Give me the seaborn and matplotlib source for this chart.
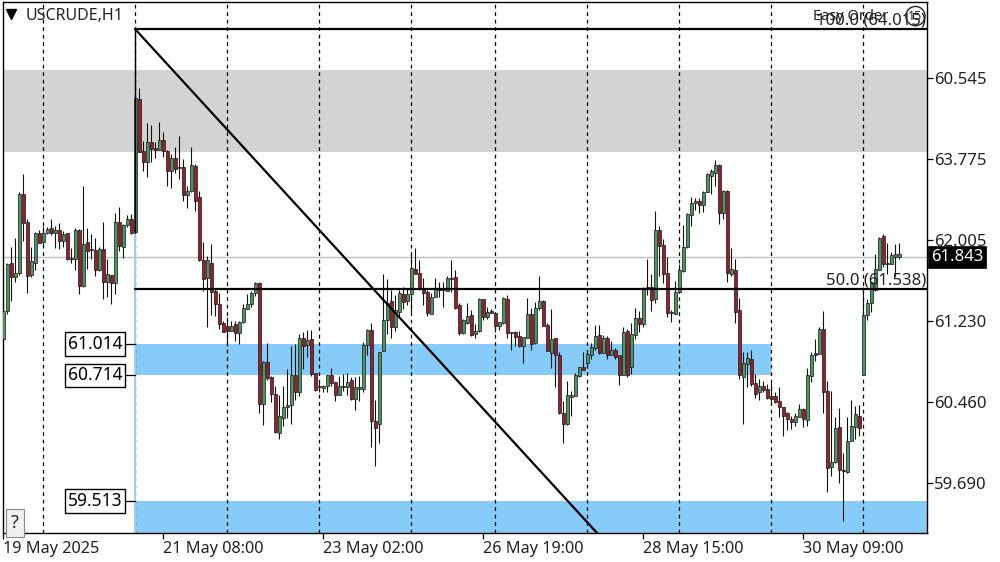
"""
USCRUDE H1 candlestick chart with fib levels and supply/demand zones
"""
import numpy as np
import pandas as pd
import matplotlib.pyplot as plt
import seaborn as sns

opens = [61.06,61.33,61.79,61.65,61.69,62.44,62.18,61.67,61.79,62.07,
         61.99,62.07,62.12,62.07,62.10,62.00,62.07,61.83,61.82,62.10,
         61.57,61.99,61.92,61.91,61.72,61.92,61.60,61.67,61.59,62.18,
         61.94,62.15,62.21,62.08,63.35,62.85,62.75,62.94,62.88,62.86,
         62.96,62.85,62.66,62.79,62.70,62.70,62.43,62.47,62.71,62.42,
         61.81,61.64,61.79,61.52,61.39,61.21,61.18,61.14,61.20,61.12,
         61.22,61.35,61.39,61.50,61.59,60.44,60.84,60.70,60.54,60.16,
         60.31,60.41,60.43,60.72,60.55,61.07,61.00,61.06,60.74,60.61,
         60.59,60.61,60.72,60.65,60.53,60.61,60.60,60.67,60.49,60.58,
         60.58,61.00,61.15,60.28,60.25,60.95,61.24,61.42,61.17,61.32,
         61.49,61.42,61.49,61.73,61.69,61.54,61.51,61.30,61.46,61.53,
         61.54,61.52,61.64,61.65,61.38,61.12,61.21,61.29,61.11,61.14,
         61.44,61.27,61.33,61.31,61.18,61.21,61.44,61.13,61.13,61.09,
         60.99,61.07,61.30,61.02,61.36,61.42,61.19,60.93,61.07,60.91,
         60.35,60.25,60.51,60.52,60.71,60.79,60.83,60.91,60.97,61.10,
         60.93,61.07,60.91,60.96,60.91,60.72,61.14,60.79,61.10,61.26,
         61.20,61.56,61.56,61.44,62.10,61.96,61.69,61.31,61.30,61.51,
         61.71,61.94,62.24,62.36,62.38,62.34,62.46,62.62,62.64,62.72,
         62.26,62.47,61.68,61.72,61.34,60.70,60.82,60.87,60.64,60.55,
         60.61,60.58,60.52,60.52,60.47,60.41,60.35,60.30,60.27,60.32,
         60.39,60.29,60.71,60.93,60.92,61.16,60.56,59.84,59.89,60.22,
         59.81,59.79,60.09,60.22,60.33,60.72,61.29,61.40,61.53,61.72,
         62.04,61.79,61.78,61.84,61.84]
highs = [61.38,61.79,61.94,62.02,62.46,62.63,62.21,61.94,62.08,62.10,
         62.14,62.13,62.21,62.14,62.17,62.09,62.07,61.93,62.12,62.11,
         62.52,62.12,62.06,62.02,61.94,62.18,61.82,61.67,62.26,62.32,
         62.16,62.24,62.25,63.37,63.46,62.95,63.12,63.10,62.94,63.13,
         63.04,62.86,62.83,62.89,63.00,62.78,62.52,62.89,62.73,62.47,
         61.99,61.85,61.97,61.54,61.50,61.23,61.27,61.23,61.23,61.23,
         61.39,61.49,61.52,61.60,61.60,60.85,61.02,60.71,60.61,60.53,
         60.61,60.77,60.99,61.01,61.11,61.13,61.15,61.15,60.74,60.65,
         60.62,60.72,60.78,60.65,60.71,60.73,60.74,60.70,60.70,60.71,
         61.03,61.16,61.21,60.48,60.94,61.68,61.63,61.53,61.48,61.53,
         61.56,61.55,61.88,61.93,61.81,61.64,61.53,61.50,61.64,61.60,
         61.60,61.66,61.81,61.72,61.40,61.25,61.40,61.34,61.20,61.45,
         61.44,61.37,61.35,61.32,61.22,61.46,61.48,61.13,61.14,61.14,
         61.08,61.45,61.36,61.41,61.66,61.43,61.21,61.35,61.07,60.94,
         60.47,60.66,60.56,60.74,60.79,60.94,60.96,61.02,61.19,61.19,
         61.10,61.09,61.04,60.97,60.91,61.17,61.16,61.21,61.36,61.33,
         61.56,61.82,61.68,62.28,62.14,62.01,61.84,61.34,61.61,61.78,
         62.15,62.26,62.42,62.41,62.41,62.47,62.64,62.68,62.77,62.73,
         62.48,62.48,61.93,61.82,61.45,60.94,60.94,60.96,60.73,60.68,
         60.66,60.63,60.64,60.55,60.60,60.41,60.36,60.33,60.35,60.44,
         60.40,60.78,60.94,61.06,61.17,61.33,60.66,60.56,60.32,60.40,
         59.97,60.32,60.48,60.42,60.43,61.56,61.44,61.60,61.87,62.03,
         62.06,61.98,61.89,61.97,61.98]
lows = [61.04,61.30,61.42,61.60,61.67,62.00,61.50,61.65,61.72,61.98,
        61.95,62.06,62.05,61.93,61.92,61.94,61.81,61.79,61.72,61.49,
        61.56,61.73,61.82,61.66,61.71,61.44,61.46,61.39,61.49,61.90,
        61.83,62.13,62.06,62.06,62.84,62.66,62.61,62.75,62.79,62.86,
        62.80,62.52,62.50,62.64,62.59,62.38,62.31,62.46,62.28,61.80,
        61.52,61.17,61.29,61.28,61.16,61.13,60.99,61.14,61.04,61.01,
        61.21,61.35,61.37,61.47,60.35,60.24,60.67,60.46,60.16,60.11,
        60.23,60.31,60.25,60.48,60.52,60.77,60.89,60.71,60.56,60.55,
        60.55,60.55,60.61,60.47,60.53,60.56,60.53,60.48,60.38,60.47,
        60.55,60.91,60.03,59.85,60.07,60.95,61.11,61.07,61.14,61.28,
        61.35,61.38,61.32,61.68,61.53,61.38,61.28,61.30,61.46,61.46,
        61.37,61.52,61.51,61.35,61.10,61.11,61.20,61.09,61.07,61.13,
        61.24,61.25,61.31,61.13,61.15,61.20,61.07,60.96,60.99,60.98,
        60.83,61.07,60.96,61.01,61.34,61.18,60.95,60.78,60.60,60.34,
        60.07,60.24,60.33,60.52,60.70,60.76,60.78,60.87,60.96,60.92,
        60.93,60.87,60.91,60.87,60.62,60.72,60.70,60.73,61.06,61.13,
        61.17,61.48,61.33,61.40,61.66,61.59,61.27,61.22,61.30,61.50,
        61.70,61.93,62.14,62.29,62.26,62.27,62.46,62.44,62.52,62.16,
        62.21,61.60,61.66,61.21,60.68,60.25,60.60,60.61,60.50,60.48,
        60.55,60.49,60.46,60.45,60.32,60.13,60.19,60.20,60.23,60.32,
        60.22,60.23,60.65,60.85,60.92,60.35,59.60,59.75,59.88,59.69,
        59.32,59.78,60.09,60.11,60.13,60.72,61.24,61.32,61.52,61.72,
        61.75,61.68,61.78,61.66,61.82]
closes = [61.33,61.78,61.65,61.69,62.44,62.17,61.66,61.80,62.07,61.98,
          62.07,62.11,62.07,62.10,62.00,62.06,61.82,61.82,62.10,61.57,
          61.97,61.90,61.91,61.72,61.92,61.60,61.68,61.59,62.18,61.95,
          62.15,62.21,62.07,63.36,62.84,62.75,62.94,62.87,62.86,62.96,
          62.85,62.66,62.79,62.68,62.69,62.43,62.47,62.72,62.38,61.81,
          61.63,61.81,61.51,61.39,61.20,61.13,61.14,61.18,61.12,61.22,
          61.36,61.39,61.50,61.59,60.44,60.84,60.69,60.54,60.17,60.33,
          60.41,60.43,60.72,60.55,61.07,60.99,61.05,60.73,60.57,60.60,
          60.61,60.72,60.64,60.53,60.61,60.60,60.65,60.49,60.60,60.60,
          61.00,61.15,60.28,60.21,60.94,61.24,61.40,61.17,61.34,61.50,
          61.41,61.49,61.74,61.68,61.55,61.50,61.31,61.46,61.54,61.54,
          61.53,61.64,61.63,61.36,61.12,61.24,61.28,61.10,61.14,61.44,
          61.27,61.32,61.31,61.18,61.22,61.45,61.12,61.12,61.08,60.99,
          61.08,61.30,61.01,61.36,61.42,61.18,60.95,61.06,60.91,60.35,
          60.25,60.53,60.53,60.72,60.79,60.76,60.92,60.98,61.09,60.93,
          61.07,60.91,60.96,60.89,60.72,61.13,60.72,61.11,61.26,61.20,
          61.55,61.55,61.43,62.10,61.95,61.68,61.31,61.32,61.51,61.72,
          61.94,62.25,62.36,62.38,62.34,62.46,62.63,62.66,62.72,62.26,
          62.47,61.69,61.73,61.32,60.72,60.83,60.88,60.63,60.54,60.61,
          60.57,60.50,60.49,60.46,60.41,60.33,60.30,60.27,60.33,60.39,
          60.30,60.72,60.91,60.91,61.16,60.55,59.83,59.89,60.21,59.81,
          59.80,60.09,60.23,60.34,60.21,61.29,61.40,61.60,61.73,62.02,
          61.78,61.78,61.86,61.87,61.87]

# bars where the dashed session separators fall
session_bars = [10, 33, 56, 79, 102, 123, 146, 169, 192, 215]
time_bars = [0, 40, 80, 120, 160, 200]
time_labels = ['19 May 2025', '21 May 08:00', '23 May 02:00', '26 May 19:00', '28 May 15:00', '30 May 09:00']
price_ticks = [63.55, 62.775, 62.005, 61.23, 60.46, 59.69]
price_labels = ['60.545', '63.775', '62.005', '61.230', '60.460', '59.690']

fib_100 = 64.015
fib_50 = 61.538
fib_0 = 59.06
last_price = 61.843
grey_zone = [62.845, 63.627]
blue_zone = [60.714, 61.014]
low_zone = 59.513

XLIM = (-0.21, 230.9)
YLIM = (59.209, 64.276)

sns.set_theme(style='white')
plt.rcParams['font.family'] = ['Noto Sans', 'DejaVu Sans']
TXT = '#222222'

df = pd.DataFrame({'bar': np.arange(len(opens)), 'open': opens, 'high': highs, 'low': lows, 'close': closes})
df['up'] = df['close'] >= df['open']
df['bottom'] = df[['open', 'close']].min(axis=1)
df['body'] = (df['close'] - df['open']).abs()

fig = plt.figure(figsize=(10, 5.62), dpi=100, facecolor='white')
ax = fig.add_axes([0.0025, 1 - 533 / 562, 0.9245, 531 / 562])

# zones
ax.axhspan(grey_zone[0], grey_zone[1], color='#d3d3d3', lw=0, zorder=0)
ax.fill_between([33, 192], blue_zone[0], blue_zone[1], color='#87cbf9', lw=0, zorder=0)
ax.fill_between([33, XLIM[1]], YLIM[0], low_zone, color='#87cbf9', lw=0, zorder=0)

ax.axhline(last_price, color='#c0c0c0', lw=1, zorder=1)
for b in session_bars:
    ax.axvline(b, color='black', lw=0.9, ls=(0, (3, 3)), zorder=1)

# candles
ax.vlines(df['bar'], df['low'], df['high'], color='#111111', lw=0.8, zorder=2)
for is_up, col in [(True, '#4f9460'), (False, '#96202e')]:
    part = df[df['up'] == is_up]
    sns.barplot(x=part['bar'].values, y=part['body'].values, bottom=part['bottom'].values,
                native_scale=True, width=0.62, color=col, saturation=1, edgecolor='#151515',
                linewidth=0.5, errorbar=None, zorder=3, ax=ax)

# fib tool
ax.plot([33, 33], [YLIM[0], 62.07], color='#a5cfe6', lw=1.4, zorder=2)
sns.lineplot(x=[33, 33], y=[62.07, fib_100], color='black', lw=1, ax=ax, zorder=4, estimator=None, sort=False)
sns.lineplot(x=[33, 152], y=[fib_100, fib_0], color='black', lw=1.6, ax=ax, zorder=4, estimator=None, sort=False)
sns.lineplot(x=[33, XLIM[1]], y=[fib_100, fib_100], color='black', lw=1.6, ax=ax, zorder=4)
sns.lineplot(x=[33, XLIM[1]], y=[fib_50, fib_50], color='black', lw=1.6, ax=ax, zorder=4)

right = XLIM[1] - 0.3
ax.text(right, fib_100 + 0.005, '100.0 (64.015)', ha='right', va='bottom', fontsize=12, color=TXT, zorder=5)
ax.text(right, fib_50 + 0.005, '50.0 (61.538)', ha='right', va='bottom', fontsize=12, color=TXT, zorder=5)
ax.text(right, fib_0 + 0.005, '0.0 (59.060)', ha='right', va='bottom', fontsize=12, color=TXT, zorder=5, clip_on=True)

# zone price tags
for price in [blue_zone[1], blue_zone[0], low_zone]:
    ax.plot([30.2, 33], [price, price], color='black', lw=0.9, zorder=5)
    ax.text(29.7, price, f'{price:.3f}', ha='right', va='center', fontsize=12.5, color='black', zorder=6,
            bbox=dict(boxstyle='square,pad=0.16', fc='white', ec='black', lw=1))

# terminal furniture
ax.text(0.0255, 0.9735, 'USCRUDE,H1', transform=ax.transAxes, ha='left', va='center', fontsize=11.5, color=TXT)
ax.plot([0.0095], [0.977], marker='v', ms=6.5, color='black', transform=ax.transAxes, clip_on=False)
ax.text(0.958, 0.9735, 'Easy Order', transform=ax.transAxes, ha='right', va='center', fontsize=10.5, color=TXT, zorder=5)
ax.text(0.9875, 0.9735, '15', transform=ax.transAxes, ha='center', va='center', fontsize=9, color=TXT, zorder=5,
        bbox=dict(boxstyle='circle,pad=0.2', fc='none', ec=TXT, lw=1))
ax.text(0.0135, 0.0195, '?', transform=ax.transAxes, ha='center', va='center', fontsize=13, color=TXT, zorder=5,
        bbox=dict(boxstyle='square,pad=0.28', fc='#f0f0f0', ec='#888888', lw=0.8))

ax.set_xlim(*XLIM)
ax.set_ylim(*YLIM)
ax.set_xlabel('')
ax.set_ylabel('')

ax.set_xticks(time_bars)
ax.set_xticklabels(time_labels, ha='left', fontsize=11.7, color=TXT)
ax.yaxis.tick_right()
ax.set_yticks(price_ticks)
ax.set_yticklabels(price_labels, fontsize=12, color=TXT)
ax.tick_params(axis='x', which='major', length=4, width=0.9, color='black', bottom=True, pad=1.5)
ax.tick_params(axis='y', which='major', length=4, width=0.9, color='black', right=True, pad=1)
for s in ax.spines.values():
    s.set_visible(True)
    s.set_color('black')
    s.set_linewidth(1)

# last price flag
ax.annotate(f'{last_price:.3f}', xy=(1.0045, last_price), xycoords=('axes fraction', 'data'),
            ha='left', va='center', fontsize=12, color='white', annotation_clip=False,
            bbox=dict(boxstyle='square,pad=0.16', fc='black', ec='black', lw=0.5))

fig.savefig('out.png', dpi=100, facecolor='white')
